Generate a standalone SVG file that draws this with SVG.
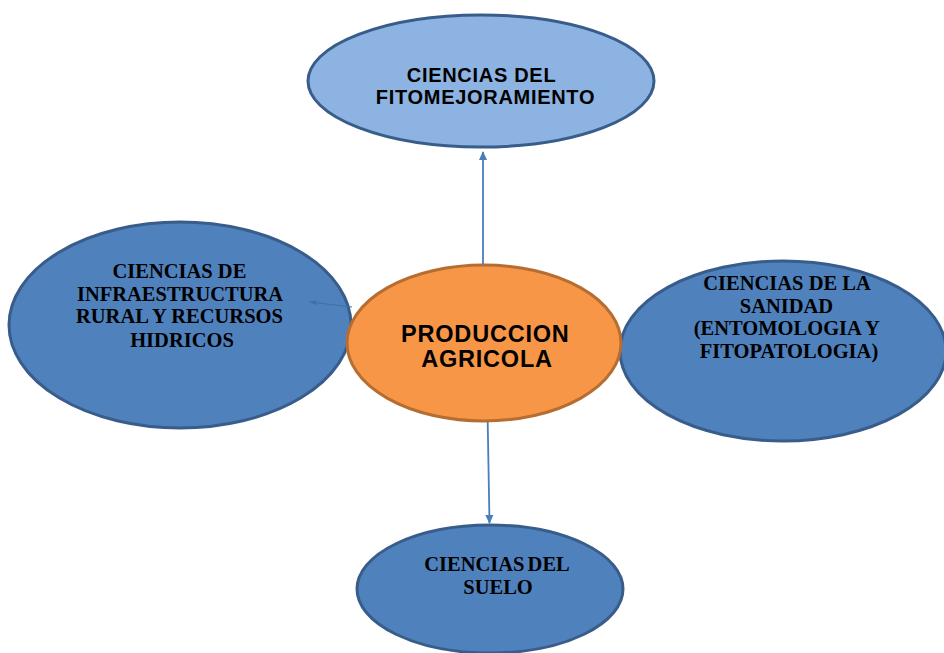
<svg xmlns="http://www.w3.org/2000/svg" width="944" height="653" viewBox="0 0 944 653">
  <defs>
    <marker id="arr" markerWidth="10" markerHeight="10" refX="8" refY="5" orient="auto" markerUnits="userSpaceOnUse">
      <path d="M0,1 L9,5 L0,9 Z" fill="#4A7EBB"/>
    </marker>
    <marker id="arrs" markerWidth="8" markerHeight="8" refX="6" refY="4" orient="auto" markerUnits="userSpaceOnUse">
      <path d="M0,1.5 L6,4 L0,6.5 Z" fill="#3F6FA8"/>
    </marker>
    <style>
      .blue { fill: #4F81BD; stroke: #385D8A; stroke-width: 3; }
      .light { fill: #8DB3E2; stroke: #385D8A; stroke-width: 3; }
      .orange { fill: #F79646; stroke: #B66D31; stroke-width: 3; }
      .sans { font-family: "Liberation Sans", Arial, sans-serif; font-weight: bold; fill: #000; text-anchor: middle; }
      .serif { font-family: "Liberation Serif", "Times New Roman", serif; font-weight: bold; fill: #000; text-anchor: middle; font-size: 20.5px; }
      .conn { stroke: #4A7EBB; stroke-width: 1.8; fill: none; }
    </style>
  </defs>
  <rect width="944" height="653" fill="#FFFFFF"/>

  <g id="node-fitomejoramiento">
    <ellipse class="light" cx="481" cy="81" rx="173" ry="66"/>
    <text class="sans" font-size="20" letter-spacing="0.7">
      <tspan x="484.5" y="82">CIENCIAS DEL</tspan>
      <tspan x="485.5" y="104">FITOMEJORAMIENTO</tspan>
    </text>
  </g>

  <g id="node-infraestructura">
    <ellipse class="blue" cx="180" cy="325" rx="171" ry="103"/>
    <text class="serif">
      <tspan x="182" y="278">CIENCIAS DE</tspan>
      <tspan x="182" y="300.5">INFRAESTRUCTURA</tspan>
      <tspan x="182" y="323">RURAL Y RECURSOS</tspan>
      <tspan x="182" y="346.5">HIDRICOS</tspan>
    </text>
  </g>

  <g id="node-sanidad">
    <ellipse class="blue" cx="783" cy="351" rx="163" ry="90"/>
    <text class="serif">
      <tspan x="789" y="289.5">CIENCIAS DE LA</tspan>
      <tspan x="789" y="312.5">SANIDAD</tspan>
      <tspan x="789" y="334.5">(ENTOMOLOGIA Y</tspan>
      <tspan x="789" y="357.5">FITOPATOLOGIA)</tspan>
    </text>
  </g>

  <g id="node-suelo">
    <ellipse class="blue" cx="490" cy="589" rx="133" ry="64"/>
    <text class="serif" word-spacing="-2">
      <tspan x="498" y="571">CIENCIAS DEL</tspan>
      <tspan x="498" y="594">SUELO</tspan>
    </text>
  </g>

  <g id="node-produccion">
    <ellipse class="orange" cx="484" cy="343" rx="137" ry="78"/>
    <text class="sans" font-size="23.5" letter-spacing="0.8">
      <tspan x="489" y="341.5">PRODUCCION</tspan>
      <tspan x="487" y="366.5">AGRICOLA</tspan>
    </text>
  </g>

  <g id="connectors">
    <line class="conn" x1="483" y1="265" x2="483" y2="152" marker-end="url(#arr)"/>
    <line class="conn" x1="487.7" y1="422" x2="489.5" y2="523" marker-end="url(#arr)"/>
    <line x1="352" y1="307" x2="310" y2="302" stroke="#3F6FA8" stroke-width="1" marker-end="url(#arrs)"/>
  </g>
</svg>
